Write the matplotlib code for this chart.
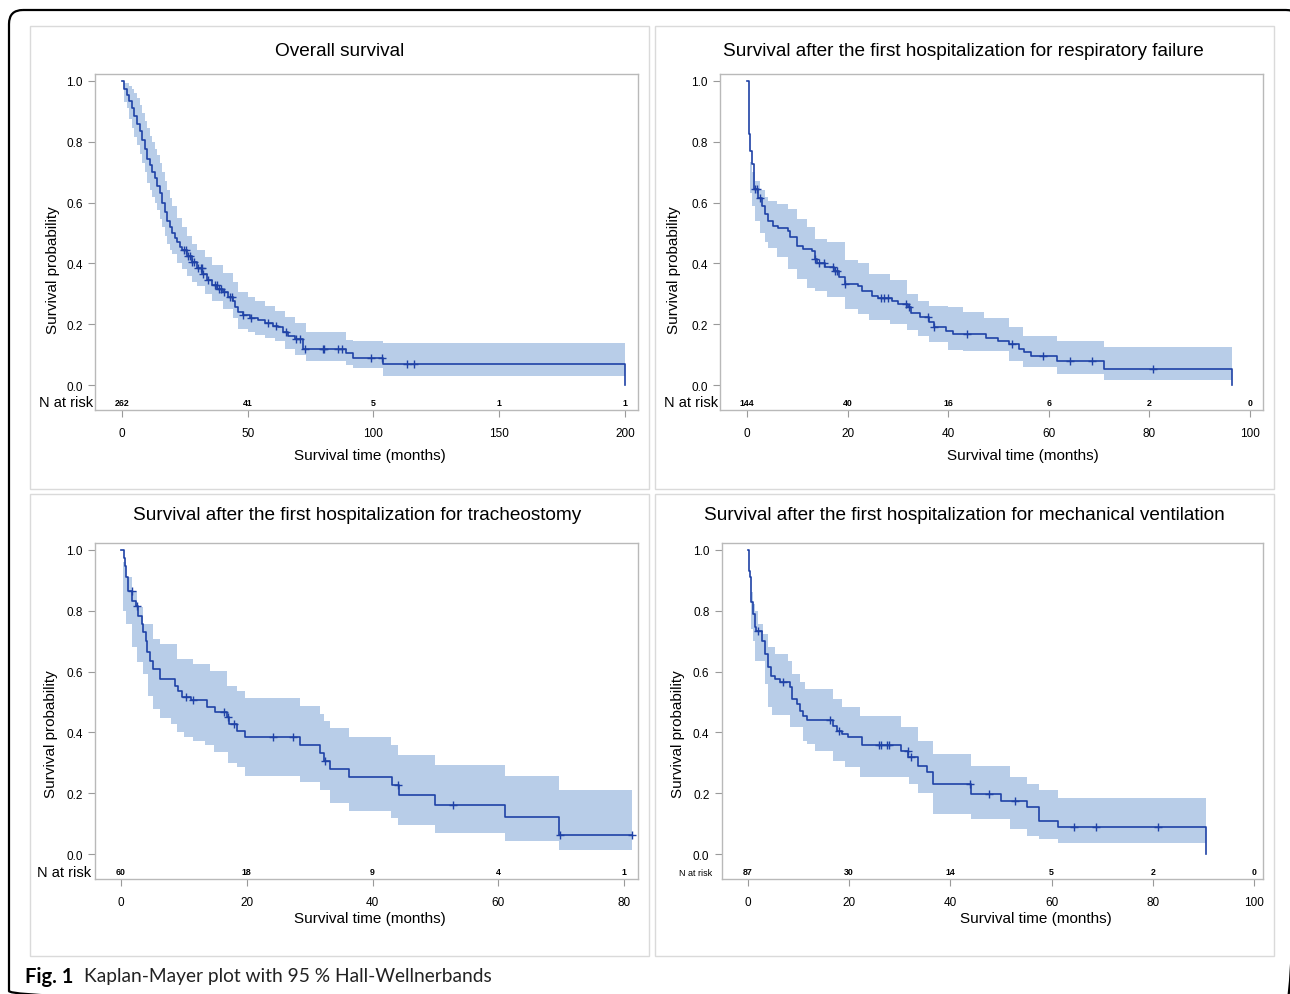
import numpy as np
import matplotlib
matplotlib.use("Agg")
import matplotlib.pyplot as plt
from matplotlib.patches import FancyBboxPatch, Rectangle

plt.rcParams['font.family'] = ['Liberation Sans', 'DejaVu Sans']

W, H = 1290, 995

# ---------------- data ----------------
# Overall survival
t1 = [0, 1, 2, 3, 4, 5, 6, 7, 8, 9, 10, 11, 12, 13, 14, 15, 16, 17, 18, 19, 20, 21, 22, 23, 24,
      26, 28, 30, 32, 34, 36, 38, 40, 42, 44, 45, 46, 48, 51, 54, 57, 60, 62, 64, 66, 69, 72, 89, 92, 104, 200]
s1 = [1.0, 0.975, 0.955, 0.935, 0.91, 0.885, 0.86, 0.835, 0.805, 0.775, 0.745, 0.725, 0.70, 0.68, 0.655,
      0.63, 0.60, 0.57, 0.54, 0.52, 0.50, 0.485, 0.47, 0.455, 0.445, 0.425, 0.405, 0.385, 0.365, 0.345,
      0.33, 0.315, 0.305, 0.29, 0.275, 0.255, 0.24, 0.23, 0.22, 0.215, 0.205, 0.195, 0.19, 0.175, 0.16,
      0.15, 0.12, 0.105, 0.09, 0.07, 0.0]
cens1 = [24.5, 25.5, 26.3, 26.9, 28.0, 28.7, 30.4, 31.4, 31.8, 32.4, 34.2, 36.9, 37.9, 38.7, 39.3, 40.7,
         42.9, 43.9, 48.0, 51.5, 57.9, 61.1, 65.3, 69.4, 70.8, 72.9, 80.1, 80.5, 86.0, 87.4, 99.1, 103.5,
         113.2, 116.1]
bt1 = [1.0, 2, 3, 4, 5, 6, 7, 8, 9, 10, 11, 12, 13, 14, 15, 16, 17, 18, 19, 20, 22, 24, 26, 28, 30, 33,
       36, 40, 44, 46, 50, 53, 57, 61, 65, 69, 73, 89, 92, 104, 200]
up1 = [0.995, 0.995, 0.985, 0.975, 0.96, 0.945, 0.92, 0.895, 0.87, 0.845, 0.82, 0.80, 0.775, 0.755, 0.73,
       0.70, 0.67, 0.64, 0.615, 0.59, 0.55, 0.52, 0.49, 0.465, 0.445, 0.42, 0.395, 0.37, 0.34, 0.305,
       0.29, 0.275, 0.26, 0.245, 0.225, 0.205, 0.175, 0.148, 0.146, 0.137, 0.137]
lo1 = [0.93, 0.91, 0.875, 0.845, 0.815, 0.79, 0.76, 0.73, 0.70, 0.665, 0.64, 0.62, 0.60, 0.575, 0.545,
       0.52, 0.49, 0.465, 0.445, 0.43, 0.40, 0.38, 0.36, 0.34, 0.325, 0.30, 0.275, 0.25, 0.22, 0.185,
       0.175, 0.165, 0.155, 0.145, 0.12, 0.10, 0.08, 0.065, 0.055, 0.03, 0.03]
ticks1 = [0, 50, 100, 150, 200]
risk1 = [262, 41, 5, 1, 1]

# Respiratory failure
t2 = [0, 0.3, 0.4, 0.6, 0.9, 1.3, 1.45, 2.2, 3.0, 3.6, 4.2, 5.2, 6.2, 8.2, 8.5, 9.9, 11.2, 12.9, 13.5,
      14.0, 15.5, 17.2, 18.2, 19.5, 22.1, 22.8, 24.8, 26.1, 28.8, 30.1, 32.1, 32.7, 34.4, 36.1, 37.1,
      39.5, 41.0, 47.5, 49.9, 52.0, 54.1, 55.1, 56.5, 61.7, 71.0, 96.4]
s2 = [1.0, 0.88, 0.826, 0.771, 0.727, 0.661, 0.645, 0.615, 0.59, 0.562, 0.54, 0.524, 0.515, 0.508, 0.486,
      0.458, 0.447, 0.442, 0.414, 0.40, 0.387, 0.376, 0.354, 0.332, 0.327, 0.31, 0.294, 0.286, 0.277,
      0.266, 0.255, 0.238, 0.223, 0.206, 0.19, 0.179, 0.168, 0.154, 0.146, 0.136, 0.119, 0.108, 0.094,
      0.078, 0.053, 0.0]
cens2 = [1.55, 1.89, 2.58, 13.6, 14.3, 15.4, 17.1, 17.4, 17.8, 19.5, 26.6, 27.3, 28.0, 31.6, 32.3, 35.97,
         37.1, 43.8, 52.7, 58.9, 64.3, 68.6, 80.7]
bt2 = [0.5, 0.9, 1.6, 2.5, 3.5, 4.2, 6.0, 8.2, 10.0, 12.0, 13.5, 16.0, 19.5, 22.0, 24.3, 28.5, 31.9, 34.0,
       36.1, 40.0, 43.0, 47.1, 52.0, 54.8, 61.7, 71.0, 96.4]
up2 = [0.735, 0.70, 0.67, 0.64, 0.62, 0.605, 0.595, 0.58, 0.545, 0.52, 0.48, 0.47, 0.41, 0.40, 0.365,
       0.345, 0.30, 0.275, 0.26, 0.255, 0.24, 0.222, 0.19, 0.162, 0.146, 0.126, 0.126]
lo2 = [0.63, 0.59, 0.54, 0.50, 0.47, 0.45, 0.42, 0.38, 0.35, 0.32, 0.31, 0.29, 0.25, 0.235, 0.215, 0.20,
       0.18, 0.16, 0.14, 0.115, 0.113, 0.113, 0.08, 0.058, 0.036, 0.016, 0.016]
ticks2 = [0, 20, 40, 60, 80, 100]
risk2 = [144, 40, 16, 6, 2, 0]

# Tracheostomy
t3 = [0, 0.4, 0.64, 0.8, 1.16, 1.7, 2.3, 2.76, 3.3, 3.55, 3.98, 4.08, 4.6, 5.14, 6.2, 8.59, 9.12, 9.65,
      11.2, 13.6, 14.95, 16.8, 17.1, 18.4, 19.7, 28.4, 31.7, 32.2, 33.3, 36.3, 43.1, 44.2, 50.0, 61.1,
      69.7, 81.2]
s3 = [1.0, 0.975, 0.948, 0.91, 0.866, 0.833, 0.817, 0.784, 0.757, 0.729, 0.702, 0.663, 0.636, 0.609,
      0.576, 0.554, 0.537, 0.518, 0.507, 0.483, 0.466, 0.45, 0.428, 0.406, 0.386, 0.359, 0.331, 0.307,
      0.28, 0.254, 0.228, 0.195, 0.162, 0.121, 0.062, 0.062]
cens3 = [1.67, 2.5, 10.3, 11.5, 16.4, 17.0, 17.9, 24.2, 27.4, 32.5, 44.1, 52.8, 69.8, 81.2]
bt3 = [0.3, 0.8, 1.7, 2.5, 3.55, 4.3, 5.1, 6.2, 8.0, 8.85, 10.0, 11.5, 13.4, 14.1, 14.8, 16.8, 17.0, 18.4,
       19.7, 28.4, 31.7, 32.3, 33.3, 36.3, 43.0, 44.0, 50.0, 61.1, 69.7, 81.2]
up3 = [0.96, 0.91, 0.866, 0.811, 0.757, 0.757, 0.707, 0.691, 0.691, 0.641, 0.641, 0.625, 0.625, 0.603,
       0.603, 0.554, 0.554, 0.537, 0.513, 0.486, 0.46, 0.439, 0.414, 0.386, 0.357, 0.326, 0.293, 0.255,
       0.212, 0.212]
lo3 = [0.80, 0.757, 0.68, 0.63, 0.592, 0.52, 0.477, 0.449, 0.428, 0.40, 0.384, 0.373, 0.357, 0.357, 0.334,
       0.334, 0.301, 0.285, 0.258, 0.236, 0.209, 0.209, 0.167, 0.143, 0.119, 0.094, 0.068, 0.044, 0.013,
       0.013]
ticks3 = [0, 20, 40, 60, 80]
risk3 = [60, 18, 9, 4, 1]

# Mechanical ventilation
t4 = [0, 0.2, 0.3, 0.59, 1.05, 1.38, 1.6, 2.7, 3.36, 4.02, 4.55, 5.3, 6.3, 8.3, 8.76, 9.6, 10.3, 10.9,
      11.6, 16.9, 17.5, 18.5, 19.8, 22.5, 30.2, 31.7, 33.6, 35.3, 36.5, 44.1, 50.0, 55.1, 57.5, 61.2, 90.5]
s4 = [1.0, 0.932, 0.91, 0.828, 0.789, 0.746, 0.733, 0.702, 0.658, 0.614, 0.587, 0.576, 0.565, 0.548,
      0.51, 0.493, 0.472, 0.455, 0.442, 0.422, 0.404, 0.395, 0.384, 0.357, 0.34, 0.318, 0.29, 0.269,
      0.23, 0.197, 0.175, 0.154, 0.11, 0.09, 0.0]
cens4 = [1.9, 7.0, 16.3, 18.0, 25.8, 26.3, 27.4, 27.9, 31.6, 32.3, 43.9, 47.7, 52.7, 64.5, 68.8, 81.0]
bt4 = [0.6, 1.0, 1.4, 2.0, 3.0, 3.4, 4.0, 4.7, 5.3, 7.9, 8.3, 8.6, 10.3, 10.9, 11.3, 11.6, 13.2, 16.9,
       18.5, 19.2, 22.1, 30.2, 31.9, 33.6, 36.5, 44.1, 51.8, 55.1, 57.5, 61.2, 90.5]
up4 = [0.861, 0.822, 0.80, 0.757, 0.724, 0.724, 0.68, 0.68, 0.658, 0.636, 0.636, 0.592, 0.565, 0.565,
       0.543, 0.543, 0.543, 0.51, 0.482, 0.482, 0.455, 0.417, 0.417, 0.373, 0.33, 0.291, 0.252, 0.231,
       0.209, 0.185, 0.185]
lo4 = [0.74, 0.702, 0.636, 0.636, 0.636, 0.559, 0.482, 0.458, 0.458, 0.458, 0.417, 0.417, 0.417, 0.373,
       0.373, 0.362, 0.34, 0.307, 0.307, 0.285, 0.252, 0.252, 0.231, 0.20, 0.132, 0.116, 0.082, 0.06,
       0.049, 0.036, 0.036]
ticks4 = [0, 20, 40, 60, 80, 100]
risk4 = [87, 30, 14, 5, 2, 0]

titles = ["Overall survival",
          "Survival after the first hospitalization for respiratory failure",
          "Survival after the first hospitalization for tracheostomy",
          "Survival after the first hospitalization for mechanical ventilation"]

LINE = '#1f42a6'
BAND = '#b8cde8'
FRAME = '#b9b9b9'


def fx(x):
    return x / W


def fy(y):
    return 1 - y / H


fig = plt.figure(figsize=(W / 100, H / 100), dpi=100)

# background: outer rounded frame (runs off right/bottom edge) and panel boxes, pixel coords
bg = fig.add_axes([0, 0, 1, 1], zorder=-10)
bg.set_xlim(0, W)
bg.set_ylim(H, 0)
bg.axis('off')
bg.add_patch(FancyBboxPatch((9, 11), 1291, 995, boxstyle='round,pad=0,rounding_size=14',
                            fill=False, ec='black', lw=1.6, clip_on=True))
for (x0, y0, w, h) in [(30, 27, 619, 463), (655, 27, 619, 463), (30, 495, 619, 462), (655, 495, 619, 462)]:
    bg.add_patch(Rectangle((x0, y0), w, h, fill=False, ec='#dadada', lw=1.0))

# panel layout: axes frame in pixels, x limits, label positions
panels = [
    dict(t=t1, s=s1, c=cens1, bt=bt1, up=up1, lo=lo1, ticks=ticks1, risk=risk1,
         box=(95, 75, 638, 411), xlim=(-10.7, 205.2), title=(340, 52), xl=(370, 456), yl=(53, 270),
         nr=(93, 403), nrsize=10.5),
    dict(t=t2, s=s2, c=cens2, bt=bt2, up=up2, lo=lo2, ticks=ticks2, risk=risk2,
         box=(720, 75, 1263, 411), xlim=(-5.37, 102.6), title=(963, 52), xl=(1023, 456), yl=(674, 270),
         nr=(718, 403), nrsize=10.5),
    dict(t=t3, s=s3, c=cens3, bt=bt3, up=up3, lo=lo3, ticks=ticks3, risk=risk3,
         box=(95, 544, 638, 880), xlim=(-4.14, 82.2), title=(357, 515), xl=(370, 919), yl=(51, 734),
         nr=(91, 873), nrsize=10.5),
    dict(t=t4, s=s4, c=cens4, bt=bt4, up=up4, lo=lo4, ticks=ticks4, risk=risk4,
         box=(722, 544, 1263, 880), xlim=(-5.14, 101.8), title=(964, 515), xl=(1036, 919), yl=(678, 734),
         nr=(712, 874), nrsize=6.5),
]

for p, title in zip(panels, titles):
    l, tp, r, b = p['box']
    ax = fig.add_axes([fx(l), fy(b), (r - l) / W, (b - tp) / H])
    ax.fill_between(p['bt'], p['lo'], p['up'], step='post', color=BAND, lw=0, zorder=1)
    ax.step(p['t'], p['s'], where='post', color=LINE, lw=1.2, zorder=2)
    tt = np.array(p['t'])
    ss = np.array(p['s'])
    cy = [ss[np.searchsorted(tt, c, side='right') - 1] for c in p['c']]
    ax.plot(p['c'], cy, ls='none', marker='+', ms=5.5, mew=1.0, color=LINE, zorder=3)

    ax.set_xlim(*p['xlim'])
    ax.set_ylim(-0.0822, 1.023)
    ax.set_xticks(p['ticks'])
    ax.set_xticklabels([str(v) for v in p['ticks']])
    ax.set_yticks([0, 0.2, 0.4, 0.6, 0.8, 1.0])
    ax.set_yticklabels(['0.0', '0.2', '0.4', '0.6', '0.8', '1.0'])
    ax.tick_params(length=5, width=0.8, color='#9a9a9a', labelsize=8.5, pad=4)
    ax.tick_params(axis='x', pad=7)
    for sp in ax.spines.values():
        sp.set_color(FRAME)
        sp.set_linewidth(1.0)

    # numbers at risk inside the frame below 0.0
    for xv, n in zip(p['ticks'], p['risk']):
        ax.text(xv, -0.059, str(n), ha='center', va='center', fontsize=6.3, fontweight='bold')

    fig.text(fx(p['nr'][0]), fy(p['nr'][1]), "N at risk", ha='right', va='center', fontsize=p['nrsize'])
    fig.text(fx(p['title'][0]), fy(p['title'][1]), title, ha='center', va='center', fontsize=13.7)
    fig.text(fx(p['xl'][0]), fy(p['xl'][1]), "Survival time (months)", ha='center', va='center', fontsize=11)
    fig.text(fx(p['yl'][0]), fy(p['yl'][1]), "Survival probability", ha='center', va='center',
             rotation=90, fontsize=11)

# caption
fig.text(fx(25), fy(977), "Fig. 1", ha='left', va='center', fontsize=14.5, fontweight='bold',
         family=['Lato', 'DejaVu Sans'])
fig.text(fx(84), fy(977), "Kaplan-Mayer plot with 95 % Hall-Wellnerbands", ha='left', va='center',
         fontsize=13.8, family=['Lato', 'DejaVu Sans'], color='#222222')

fig.savefig('out.png', dpi=100)
